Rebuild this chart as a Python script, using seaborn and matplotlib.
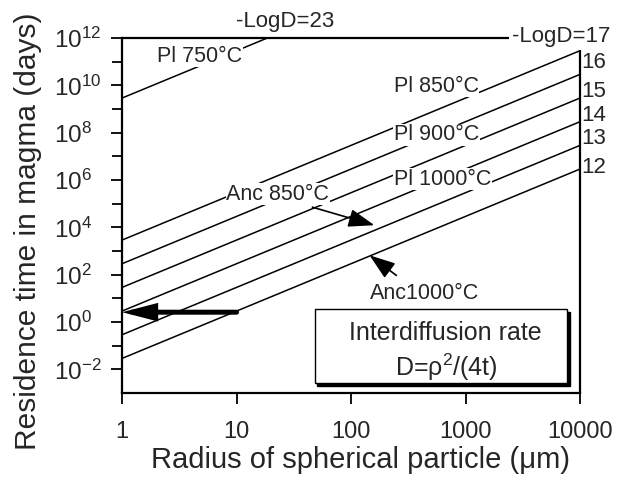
import numpy as np
import pandas as pd
import matplotlib
matplotlib.use("Agg")
import matplotlib.pyplot as plt
import seaborn as sns
from matplotlib.patches import Rectangle
from matplotlib.ticker import FixedLocator, FixedFormatter, NullLocator, NullFormatter

# ---------------- data ----------------
neg_log_D = [12, 13, 14, 15, 16, 17, 23]
radius_start_um = [1, 1, 1, 1, 1, 1, 1]
radius_end_um = [10000, 10000, 10000, 10000, 10000, 10000, 18.6]
time_start_days = [0.029, 0.29, 2.9, 29, 290, 2900, 2.9e9]
time_end_days = [2.9e6, 2.9e7, 2.9e8, 2.9e9, 2.9e10, 2.9e11, 1.0e12]

x_ticks = [1, 10, 100, 1000, 10000]
x_tick_labels = ["1", "10", "100", "1000", "10000"]
y_major_exp = [-2, 0, 2, 4, 6, 8, 10, 12]
y_minor_exp = [-1, 1, 3, 5, 7, 9, 11]

right_labels = ["16", "15", "14", "13", "12"]
right_label_y = [8.8e10, 5.3e9, 5.5e8, 5.9e7, 3.5e6]

line_labels = ["Pl 750°C", "Anc 850°C", "Pl 850°C", "Pl 900°C", "Pl 1000°C", "Anc1000°C"]
line_label_x = [4.8, 22.9, 556, 556, 627, 437]
line_label_y = [1.7e11, 2.5e5, 9.3e9, 8.0e7, 1.1e6, 16]

# ---------------- style ----------------
sns.set_theme(style="white")
plt.rcParams["font.family"] = ["Liberation Sans", "DejaVu Sans"]
plt.rcParams["mathtext.fontset"] = "custom"
plt.rcParams["mathtext.rm"] = "Liberation Sans"
plt.rcParams["mathtext.it"] = "Liberation Sans:italic"
plt.rcParams["mathtext.bf"] = "Liberation Sans:bold"

rows = []
for n, x0, x1, y0, y1 in zip(neg_log_D, radius_start_um, radius_end_um,
                             time_start_days, time_end_days):
    rows.append({"line": n, "radius": x0, "time": y0})
    rows.append({"line": n, "radius": x1, "time": y1})
df = pd.DataFrame(rows)

fig = plt.figure(figsize=(6.26, 4.79), dpi=100)
ax = fig.add_axes([0.195, 0.1795, 0.7315, 0.7412])

sns.lineplot(data=df, x="radius", y="time", units="line", estimator=None,
             color="black", lw=1.1, ax=ax, legend=False)

ax.set_xscale("log")
ax.set_yscale("log")
ax.set_xlim(1, 10000)
ax.set_ylim(1e-3, 1e12)

ax.xaxis.set_major_locator(FixedLocator(x_ticks))
ax.xaxis.set_major_formatter(FixedFormatter(x_tick_labels))
ax.xaxis.set_minor_locator(NullLocator())
ax.xaxis.set_minor_formatter(NullFormatter())
ax.yaxis.set_major_locator(FixedLocator([10.0 ** e for e in y_major_exp]))
ax.yaxis.set_major_formatter(FixedFormatter(
    [r"$\mathregular{10^{%d}}$" % e for e in y_major_exp]))
ax.yaxis.set_minor_locator(FixedLocator([10.0 ** e for e in y_minor_exp]))
ax.yaxis.set_minor_formatter(NullFormatter())

ax.tick_params(axis="both", which="both", direction="out", bottom=True,
               left=True, top=False, right=False, color="black", width=1.3)
ax.tick_params(axis="both", which="major", length=8)
ax.tick_params(axis="both", which="minor", length=7)
ax.tick_params(axis="x", which="major", labelsize=17, pad=12)
ax.tick_params(axis="y", which="major", labelsize=17.5, pad=41)
for lab in ax.get_yticklabels():
    lab.set_horizontalalignment("left")

for sp in ax.spines.values():
    sp.set_visible(True)
    sp.set_color("black")
    sp.set_linewidth(1.6)

ax.set_xlabel("Radius of spherical particle (μm)", fontsize=21)
ax.xaxis.set_label_coords(0.52, -0.15)
ax.set_ylabel("Residence time in magma (days)", fontsize=21.5)
ax.yaxis.set_label_coords(-0.175, 0.456)

# line labels with white background (cut the lines)
for txt, x, y in zip(line_labels, line_label_x, line_label_y):
    ax.text(x, y, txt, fontsize=15.5, ha="center", va="center", zorder=4,
            bbox=dict(facecolor="white", edgecolor="none", pad=0.5))

# -LogD labels
ax.text(26.3, 4.8e12, "-LogD=23", fontsize=16, ha="center", va="center",
        zorder=4)
ax.text(2555, 1.2e12, "-LogD=17", fontsize=16, ha="left", va="center",
        zorder=4, bbox=dict(facecolor="white", edgecolor="none", pad=2.5))
for txt, y in zip(right_labels, right_label_y):
    ax.text(10200, y, txt, fontsize=16, ha="left", va="center", zorder=4)

# thin arrows
ax.annotate("", xy=(160, 1.23e4), xytext=(46, 7.1e4),
            arrowprops=dict(arrowstyle="-|>,head_length=0.8,head_width=0.28",
                            color="black", lw=1.2, shrinkA=0, shrinkB=0,
                            mutation_scale=20), zorder=5)
ax.annotate("", xy=(145, 661), xytext=(249, 93),
            arrowprops=dict(arrowstyle="-|>,head_length=0.8,head_width=0.28",
                            color="black", lw=1.2, shrinkA=0, shrinkB=0,
                            mutation_scale=20), zorder=5)
# thick arrow
ax.annotate("", xy=(1, 2.6), xytext=(10, 2.6),
            arrowprops=dict(arrowstyle="-|>,head_length=0.85,head_width=0.22",
                            color="black", lw=3.6, shrinkA=0, shrinkB=0,
                            mutation_scale=20, joinstyle="miter"), zorder=5)

# box with shadow
ax.add_patch(Rectangle((0.4266, 0.0205), 0.551, 0.208, transform=ax.transAxes,
                       facecolor="black", edgecolor="black", zorder=5))
ax.add_patch(Rectangle((0.421, 0.028), 0.551, 0.208, transform=ax.transAxes,
                       facecolor="white", edgecolor="black", lw=1.0, zorder=6))
ax.text(0.705, 0.169, "Interdiffusion rate", transform=ax.transAxes,
        fontsize=18, ha="center", va="center", zorder=7)
ax.text(0.708, 0.073, r"D=ρ$^{2}$/(4t)", transform=ax.transAxes,
        fontsize=18, ha="center", va="center", zorder=7)

fig.savefig("out.png", dpi=100, facecolor="white")
